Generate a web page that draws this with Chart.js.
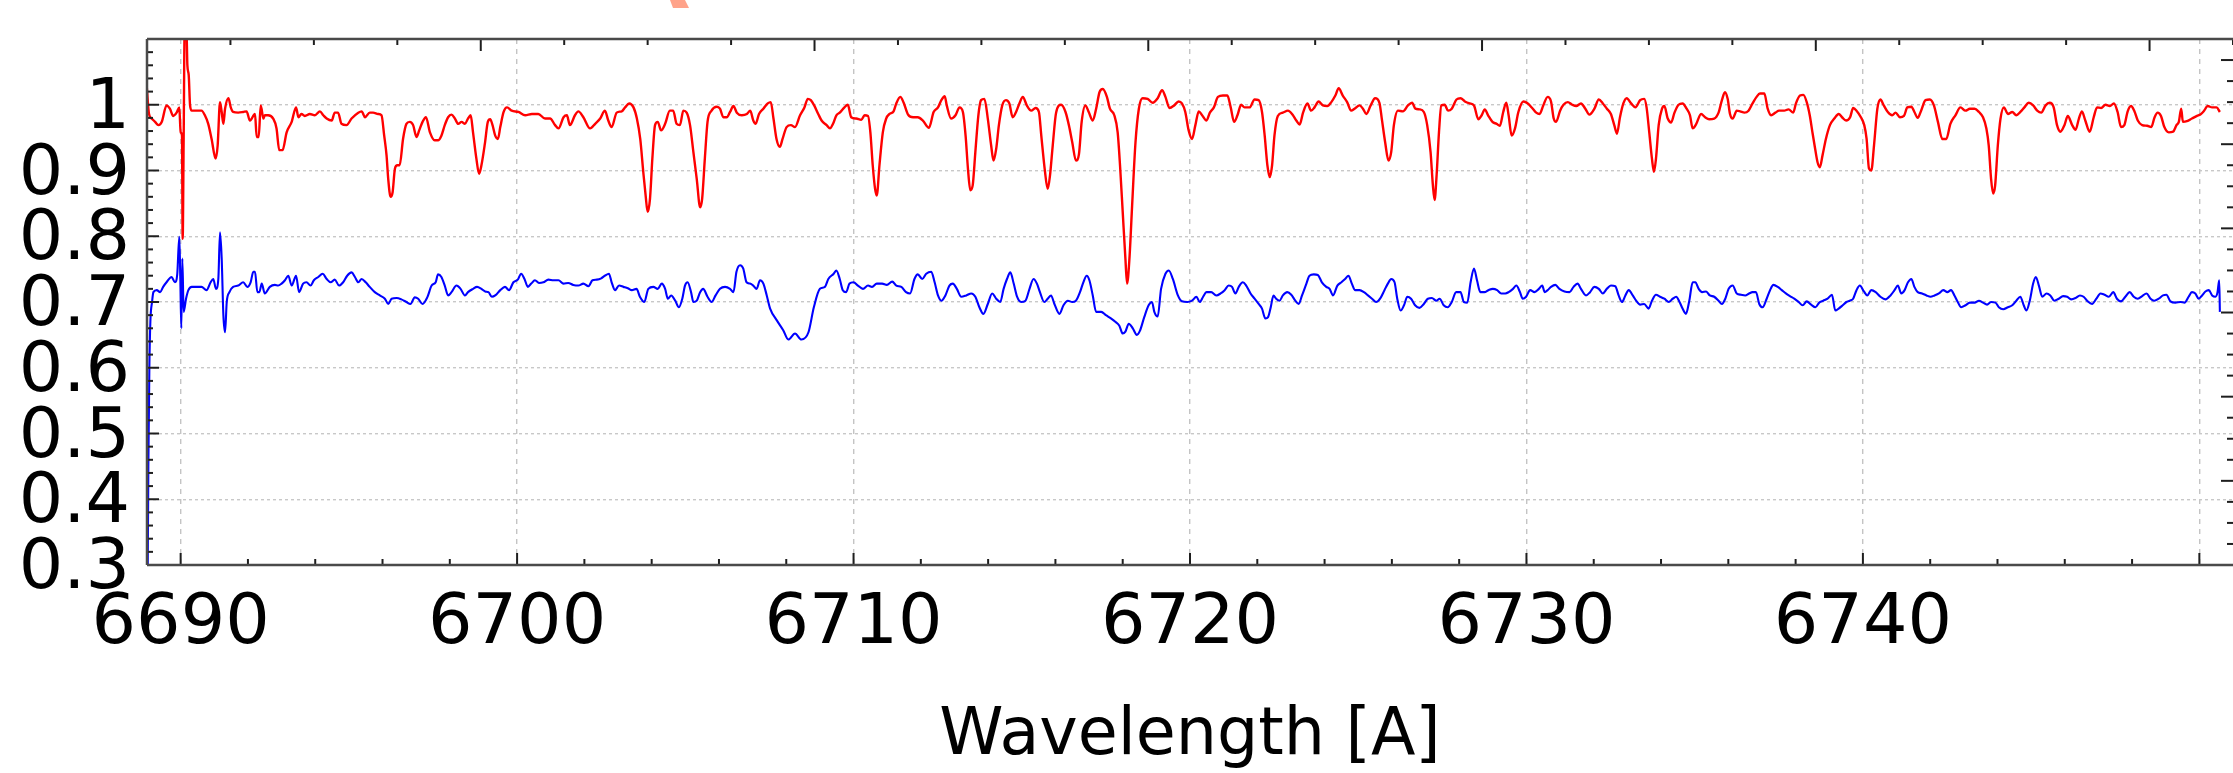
<!DOCTYPE html>
<html>
<head>
<meta charset="utf-8">
<title>Spectrum</title>
<script src="https://cdn.jsdelivr.net/npm/chart.js@4.4.1/dist/chart.umd.min.js"></script>
<style>
  html, body { margin: 0; padding: 0; background: #fff; overflow: hidden; }
  #wrap { position: relative; width: 2233px; height: 773px; }
  canvas { display: block; }
  /* cut-off salmon stroke at the top edge of the figure */
  .stray { position: absolute; left: 670px; top: 0; width: 19px; height: 8px; background: #ffa38a;
           clip-path: polygon(0 0, 15px 0, 19px 8px, 3px 8px); }
</style>
</head>
<body>
<div id="wrap">
  <canvas id="spec" width="2233" height="773"></canvas>
  <div class="stray"></div>
</div>
<script>
// wavelength [A], normalised flux
const redSpectrum = [
  [6688.99,1.029],[6689.06,0.986],[6689.14,0.979],[6689.24,0.974],[6689.34,0.969],[6689.44,0.974],[6689.58,0.999],[6689.68,0.994],[6689.78,0.983],[6689.88,0.988],
  [6689.96,0.996],[6690.00,0.958],[6690.04,0.953],[6690.06,0.796],[6690.09,0.950],[6690.12,1.120],[6690.17,1.120],[6690.20,1.060],[6690.24,1.045],[6690.28,0.999],
  [6690.33,0.991],[6690.48,0.991],[6690.62,0.991],[6690.72,0.984],[6690.82,0.971],[6690.92,0.948],[6691.04,0.918],[6691.10,0.938],[6691.17,1.004],[6691.22,0.989],
  [6691.27,0.971],[6691.32,0.994],[6691.42,1.010],[6691.49,0.996],[6691.56,0.989],[6691.71,0.988],[6691.86,0.989],[6691.96,0.990],[6692.06,0.976],[6692.21,0.986],
  [6692.26,0.951],[6692.32,0.951],[6692.38,0.999],[6692.46,0.979],[6692.50,0.984],[6692.60,0.984],[6692.75,0.979],[6692.85,0.964],[6692.93,0.931],[6693.03,0.931],
  [6693.15,0.958],[6693.30,0.974],[6693.43,0.996],[6693.50,0.981],[6693.59,0.986],[6693.69,0.983],[6693.84,0.986],[6693.99,0.984],[6694.14,0.990],[6694.24,0.984],
  [6694.34,0.979],[6694.49,0.976],[6694.58,0.988],[6694.68,0.988],[6694.78,0.971],[6694.93,0.969],[6695.08,0.979],[6695.28,0.988],[6695.38,0.990],[6695.48,0.981],
  [6695.62,0.988],[6695.72,0.988],[6695.87,0.986],[6695.97,0.984],[6696.05,0.953],[6696.12,0.923],[6696.17,0.887],[6696.24,0.860],[6696.30,0.867],[6696.37,0.903],
  [6696.44,0.908],[6696.51,0.908],[6696.61,0.948],[6696.71,0.971],[6696.81,0.974],[6696.91,0.969],[6697.01,0.951],[6697.09,0.961],[6697.19,0.974],[6697.29,0.981],
  [6697.41,0.958],[6697.55,0.946],[6697.65,0.946],[6697.75,0.953],[6697.85,0.969],[6697.95,0.981],[6698.05,0.985],[6698.15,0.979],[6698.25,0.971],[6698.35,0.974],
  [6698.45,0.971],[6698.54,0.979],[6698.62,0.984],[6698.69,0.958],[6698.79,0.918],[6698.87,0.895],[6698.94,0.908],[6699.04,0.940],[6699.13,0.974],[6699.20,0.978],
  [6699.27,0.969],[6699.35,0.953],[6699.43,0.948],[6699.50,0.966],[6699.60,0.989],[6699.70,0.996],[6699.84,0.991],[6700.04,0.989],[6700.24,0.984],[6700.44,0.986],
  [6700.63,0.986],[6700.83,0.979],[6700.98,0.979],[6701.13,0.969],[6701.23,0.964],[6701.38,0.981],[6701.48,0.984],[6701.57,0.969],[6701.72,0.984],[6701.82,0.990],
  [6701.97,0.981],[6702.17,0.964],[6702.32,0.971],[6702.47,0.979],[6702.61,0.991],[6702.71,0.976],[6702.81,0.966],[6702.96,0.988],[6703.11,0.990],[6703.21,0.996],
  [6703.33,1.002],[6703.46,0.996],[6703.56,0.979],[6703.66,0.948],[6703.75,0.898],[6703.82,0.862],[6703.88,0.837],[6703.95,0.857],[6704.02,0.918],[6704.10,0.969],
  [6704.18,0.974],[6704.28,0.961],[6704.40,0.971],[6704.54,0.991],[6704.64,0.991],[6704.74,0.971],[6704.84,0.969],[6704.94,0.991],[6705.04,0.988],[6705.14,0.969],
  [6705.24,0.928],[6705.34,0.887],[6705.44,0.844],[6705.50,0.857],[6705.58,0.918],[6705.66,0.974],[6705.78,0.991],[6705.93,0.997],[6706.03,0.994],[6706.13,0.981],
  [6706.23,0.981],[6706.33,0.989],[6706.43,0.998],[6706.53,0.988],[6706.68,0.984],[6706.83,0.986],[6706.93,0.991],[6707.02,0.976],[6707.09,0.971],[6707.19,0.986],
  [6707.32,0.994],[6707.45,1.002],[6707.54,1.004],[6707.62,0.979],[6707.71,0.948],[6707.81,0.936],[6707.89,0.948],[6708.01,0.966],[6708.14,0.969],[6708.26,0.966],
  [6708.41,0.984],[6708.54,0.996],[6708.64,1.009],[6708.73,1.007],[6708.83,0.999],[6708.95,0.986],[6709.05,0.976],[6709.20,0.969],[6709.30,0.964],[6709.39,0.971],
  [6709.49,0.984],[6709.59,0.988],[6709.73,0.996],[6709.83,1.000],[6709.93,0.981],[6710.08,0.979],[6710.23,0.977],[6710.33,0.984],[6710.43,0.983],[6710.50,0.958],
  [6710.57,0.908],[6710.64,0.872],[6710.69,0.862],[6710.77,0.908],[6710.87,0.958],[6710.97,0.979],[6711.07,0.986],[6711.19,0.990],[6711.27,1.002],[6711.39,1.012],
  [6711.49,1.003],[6711.62,0.985],[6711.77,0.981],[6711.91,0.981],[6712.06,0.976],[6712.24,0.965],[6712.38,0.989],[6712.51,0.996],[6712.61,1.007],[6712.71,1.013],
  [6712.77,0.999],[6712.90,0.979],[6713.03,0.984],[6713.15,0.996],[6713.25,0.989],[6713.33,0.953],[6713.40,0.903],[6713.47,0.870],[6713.54,0.877],[6713.62,0.928],
  [6713.71,0.984],[6713.79,1.007],[6713.89,1.009],[6713.99,0.979],[6714.09,0.938],[6714.16,0.915],[6714.24,0.933],[6714.32,0.969],[6714.42,0.999],[6714.53,1.007],
  [6714.63,1.002],[6714.73,0.981],[6714.83,0.989],[6714.93,1.002],[6715.03,1.012],[6715.15,0.999],[6715.28,0.991],[6715.41,0.995],[6715.51,0.989],[6715.58,0.953],
  [6715.68,0.903],[6715.77,0.872],[6715.84,0.893],[6715.92,0.938],[6716.02,0.988],[6716.17,1.000],[6716.30,0.989],[6716.40,0.969],[6716.50,0.943],[6716.61,0.915],
  [6716.70,0.925],[6716.78,0.974],[6716.89,0.999],[6716.99,0.989],[6717.11,0.976],[6717.21,0.994],[6717.31,1.019],[6717.41,1.024],[6717.53,1.012],[6717.62,0.994],
  [6717.75,0.984],[6717.85,0.958],[6717.92,0.908],[6718.00,0.837],[6718.08,0.766],[6718.13,0.728],[6718.20,0.766],[6718.28,0.847],[6718.38,0.943],[6718.48,0.994],
  [6718.59,1.010],[6718.74,1.009],[6718.89,1.003],[6719.04,1.010],[6719.17,1.022],[6719.27,1.012],[6719.39,0.995],[6719.53,0.999],[6719.66,1.005],[6719.76,1.002],
  [6719.86,0.989],[6719.96,0.961],[6720.06,0.948],[6720.16,0.969],[6720.26,0.990],[6720.36,0.984],[6720.49,0.976],[6720.59,0.988],[6720.71,0.996],[6720.83,1.012],
  [6720.98,1.014],[6721.11,1.014],[6721.21,0.996],[6721.31,0.974],[6721.41,0.984],[6721.52,1.000],[6721.62,0.996],[6721.77,0.996],[6721.92,1.008],[6722.04,1.007],
  [6722.14,0.989],[6722.22,0.953],[6722.30,0.908],[6722.37,0.890],[6722.44,0.908],[6722.51,0.953],[6722.61,0.983],[6722.76,0.988],[6722.91,0.991],[6723.06,0.984],
  [6723.16,0.976],[6723.26,0.970],[6723.36,0.988],[6723.49,1.002],[6723.60,0.991],[6723.70,0.996],[6723.82,1.005],[6723.95,0.999],[6724.08,0.998],[6724.20,1.004],
  [6724.32,1.014],[6724.42,1.025],[6724.54,1.014],[6724.67,1.004],[6724.79,0.991],[6724.89,0.994],[6725.04,0.999],[6725.14,0.994],[6725.24,0.986],[6725.37,0.999],
  [6725.50,1.010],[6725.63,1.003],[6725.70,0.979],[6725.80,0.943],[6725.90,0.915],[6725.98,0.928],[6726.06,0.969],[6726.18,0.991],[6726.33,0.990],[6726.48,0.999],
  [6726.60,1.003],[6726.70,0.994],[6726.82,0.993],[6726.95,0.989],[6727.05,0.969],[6727.15,0.928],[6727.22,0.877],[6727.27,0.855],[6727.33,0.893],[6727.40,0.958],
  [6727.47,0.999],[6727.57,1.000],[6727.67,0.991],[6727.78,0.994],[6727.92,1.008],[6728.04,1.010],[6728.17,1.005],[6728.31,1.002],[6728.44,0.999],[6728.57,0.978],
  [6728.67,0.984],[6728.76,0.993],[6728.86,0.984],[6728.99,0.974],[6729.11,0.971],[6729.21,0.968],[6729.31,0.989],[6729.40,1.003],[6729.47,0.984],[6729.56,0.953],
  [6729.66,0.964],[6729.76,0.989],[6729.91,1.005],[6730.04,1.002],[6730.17,0.995],[6730.29,0.988],[6730.39,0.986],[6730.50,0.999],[6730.63,1.012],[6730.73,1.005],
  [6730.81,0.979],[6730.88,0.974],[6731.00,0.991],[6731.10,1.000],[6731.23,1.004],[6731.36,1.000],[6731.48,0.998],[6731.62,1.002],[6731.75,0.994],[6731.87,0.985],
  [6732.02,0.994],[6732.15,1.008],[6732.27,1.002],[6732.39,0.994],[6732.51,0.986],[6732.61,0.969],[6732.69,0.956],[6732.78,0.981],[6732.88,1.002],[6732.98,1.010],
  [6733.11,1.002],[6733.24,0.996],[6733.38,1.007],[6733.50,1.009],[6733.57,0.996],[6733.65,0.958],[6733.73,0.918],[6733.79,0.898],[6733.85,0.918],[6733.93,0.969],
  [6734.03,0.994],[6734.10,0.998],[6734.20,0.979],[6734.30,0.973],[6734.40,0.988],[6734.52,1.000],[6734.64,1.002],[6734.76,0.994],[6734.86,0.984],[6734.94,0.964],
  [6735.04,0.970],[6735.19,0.986],[6735.31,0.981],[6735.43,0.978],[6735.58,0.979],[6735.71,0.988],[6735.81,1.007],[6735.90,1.019],[6735.98,1.009],[6736.05,0.986],
  [6736.13,0.979],[6736.25,0.991],[6736.35,0.990],[6736.48,0.988],[6736.60,0.991],[6736.72,1.002],[6736.84,1.012],[6736.94,1.017],[6737.07,1.017],[6737.17,0.994],
  [6737.27,0.984],[6737.40,0.988],[6737.51,0.991],[6737.66,0.991],[6737.79,0.993],[6737.93,0.988],[6738.01,1.002],[6738.13,1.014],[6738.23,1.015],[6738.33,1.004],
  [6738.42,0.984],[6738.50,0.958],[6738.58,0.933],[6738.65,0.913],[6738.72,0.905],[6738.80,0.923],[6738.90,0.948],[6739.02,0.969],[6739.15,0.979],[6739.28,0.986],
  [6739.38,0.981],[6739.50,0.976],[6739.62,0.981],[6739.71,0.995],[6739.81,0.991],[6739.94,0.981],[6740.04,0.969],[6740.11,0.948],[6740.18,0.903],[6740.25,0.900],
  [6740.33,0.938],[6740.43,0.994],[6740.52,1.008],[6740.62,0.999],[6740.74,0.989],[6740.87,0.984],[6740.97,0.988],[6741.10,0.981],[6741.22,0.983],[6741.32,0.996],
  [6741.44,0.997],[6741.53,0.989],[6741.63,0.980],[6741.73,0.991],[6741.86,1.007],[6741.99,1.008],[6742.11,0.999],[6742.23,0.974],[6742.36,0.948],[6742.48,0.948],
  [6742.60,0.971],[6742.75,0.984],[6742.90,0.996],[6743.05,0.991],[6743.18,0.994],[6743.32,0.994],[6743.45,0.989],[6743.57,0.981],[6743.67,0.964],[6743.74,0.938],
  [6743.81,0.887],[6743.87,0.865],[6743.93,0.877],[6744.01,0.938],[6744.09,0.979],[6744.19,0.996],[6744.31,0.986],[6744.44,0.989],[6744.56,0.984],[6744.68,0.989],
  [6744.80,0.996],[6744.93,1.003],[6745.06,0.999],[6745.18,0.991],[6745.30,0.988],[6745.43,0.999],[6745.55,1.003],[6745.67,0.996],[6745.77,0.969],[6745.87,0.959],
  [6745.99,0.969],[6746.09,0.983],[6746.22,0.969],[6746.32,0.962],[6746.42,0.979],[6746.51,0.990],[6746.61,0.976],[6746.74,0.959],[6746.86,0.981],[6746.96,0.996],
  [6747.08,0.995],[6747.21,1.000],[6747.34,0.998],[6747.46,1.002],[6747.57,0.989],[6747.67,0.966],[6747.77,0.969],[6747.87,0.990],[6747.97,0.998],[6748.07,0.990],
  [6748.17,0.976],[6748.30,0.969],[6748.45,0.968],[6748.57,0.966],[6748.67,0.981],[6748.76,0.988],[6748.86,0.983],[6748.96,0.966],[6749.09,0.958],[6749.22,0.959],
  [6749.32,0.969],[6749.39,0.974],[6749.46,0.994],[6749.51,0.974],[6749.63,0.975],[6749.78,0.979],[6749.93,0.983],[6750.03,0.985],[6750.13,0.990],[6750.25,0.998],
  [6750.38,0.996],[6750.51,0.996],[6750.61,0.989]
];

const blueSpectrum = [
  [6689.02,0.280],[6689.04,0.450],[6689.07,0.600],[6689.10,0.670],[6689.15,0.700],[6689.19,0.715],[6689.29,0.718],[6689.39,0.715],[6689.48,0.723],[6689.58,0.730],
  [6689.73,0.738],[6689.83,0.730],[6689.90,0.743],[6689.96,0.799],[6689.99,0.735],[6690.02,0.660],[6690.05,0.766],[6690.09,0.685],[6690.16,0.705],[6690.23,0.718],
  [6690.33,0.723],[6690.48,0.723],[6690.62,0.723],[6690.77,0.718],[6690.89,0.730],[6690.97,0.735],[6691.05,0.720],[6691.12,0.735],[6691.17,0.806],[6691.22,0.766],
  [6691.27,0.680],[6691.32,0.654],[6691.37,0.700],[6691.45,0.715],[6691.56,0.723],[6691.71,0.725],[6691.86,0.730],[6691.98,0.723],[6692.08,0.730],[6692.16,0.746],
  [6692.21,0.746],[6692.28,0.715],[6692.34,0.715],[6692.41,0.728],[6692.50,0.713],[6692.65,0.723],[6692.80,0.726],[6692.90,0.725],[6693.00,0.728],[6693.10,0.733],
  [6693.20,0.740],[6693.30,0.725],[6693.43,0.740],[6693.52,0.715],[6693.64,0.728],[6693.74,0.730],[6693.86,0.725],[6693.96,0.733],[6694.09,0.738],[6694.22,0.743],
  [6694.34,0.735],[6694.46,0.730],[6694.58,0.734],[6694.71,0.725],[6694.83,0.730],[6694.95,0.740],[6695.08,0.745],[6695.18,0.738],[6695.28,0.730],[6695.38,0.735],
  [6695.50,0.730],[6695.62,0.723],[6695.77,0.715],[6695.92,0.710],[6696.07,0.705],[6696.17,0.697],[6696.27,0.705],[6696.42,0.706],[6696.56,0.704],[6696.71,0.700],
  [6696.83,0.697],[6696.96,0.707],[6697.06,0.705],[6697.19,0.697],[6697.33,0.707],[6697.46,0.725],[6697.58,0.730],[6697.65,0.742],[6697.75,0.738],[6697.85,0.725],
  [6697.95,0.710],[6698.05,0.715],[6698.20,0.725],[6698.32,0.720],[6698.45,0.710],[6698.54,0.715],[6698.69,0.720],[6698.81,0.723],[6698.94,0.720],[6699.05,0.716],
  [6699.15,0.715],[6699.25,0.708],[6699.35,0.710],[6699.50,0.718],[6699.64,0.723],[6699.76,0.718],[6699.89,0.730],[6700.02,0.734],[6700.12,0.743],[6700.22,0.735],
  [6700.32,0.723],[6700.42,0.728],[6700.53,0.733],[6700.65,0.729],[6700.78,0.730],[6700.93,0.734],[6701.08,0.733],[6701.23,0.733],[6701.38,0.728],[6701.52,0.729],
  [6701.67,0.726],[6701.82,0.725],[6701.97,0.728],[6702.12,0.724],[6702.24,0.733],[6702.37,0.734],[6702.50,0.736],[6702.61,0.740],[6702.73,0.743],[6702.81,0.730],
  [6702.91,0.718],[6703.03,0.725],[6703.16,0.723],[6703.29,0.721],[6703.41,0.718],[6703.55,0.720],[6703.65,0.708],[6703.78,0.700],[6703.90,0.720],[6704.05,0.723],
  [6704.18,0.720],[6704.30,0.728],[6704.40,0.720],[6704.48,0.705],[6704.58,0.710],[6704.70,0.702],[6704.81,0.692],[6704.91,0.705],[6704.99,0.725],[6705.07,0.730],
  [6705.17,0.715],[6705.24,0.700],[6705.34,0.702],[6705.44,0.715],[6705.53,0.720],[6705.66,0.708],[6705.78,0.700],[6705.90,0.710],[6706.03,0.720],[6706.18,0.723],
  [6706.33,0.720],[6706.43,0.715],[6706.52,0.746],[6706.63,0.756],[6706.72,0.751],[6706.82,0.730],[6706.92,0.728],[6707.02,0.725],[6707.12,0.720],[6707.22,0.733],
  [6707.32,0.728],[6707.42,0.710],[6707.52,0.690],[6707.72,0.672],[6707.91,0.657],[6708.06,0.643],[6708.26,0.652],[6708.45,0.643],[6708.66,0.654],[6708.82,0.692],
  [6709.00,0.720],[6709.15,0.723],[6709.25,0.735],[6709.41,0.743],[6709.49,0.748],[6709.59,0.735],[6709.68,0.718],[6709.78,0.715],[6709.88,0.728],[6710.00,0.730],
  [6710.13,0.725],[6710.28,0.720],[6710.43,0.725],[6710.55,0.723],[6710.69,0.728],[6710.85,0.728],[6710.99,0.726],[6711.15,0.731],[6711.27,0.725],[6711.42,0.723],
  [6711.56,0.715],[6711.68,0.713],[6711.81,0.735],[6711.91,0.742],[6712.04,0.735],[6712.16,0.743],[6712.31,0.746],[6712.41,0.730],[6712.51,0.710],[6712.61,0.702],
  [6712.73,0.710],[6712.85,0.725],[6712.95,0.728],[6713.07,0.720],[6713.20,0.708],[6713.35,0.710],[6713.50,0.713],[6713.62,0.708],[6713.74,0.692],[6713.86,0.682],
  [6713.99,0.697],[6714.12,0.713],[6714.24,0.705],[6714.36,0.700],[6714.46,0.720],[6714.56,0.735],[6714.66,0.745],[6714.76,0.728],[6714.86,0.708],[6714.98,0.700],
  [6715.11,0.702],[6715.23,0.720],[6715.35,0.735],[6715.45,0.728],[6715.54,0.715],[6715.67,0.700],[6715.77,0.705],[6715.87,0.710],[6715.97,0.697],[6716.12,0.682],
  [6716.24,0.695],[6716.37,0.702],[6716.50,0.700],[6716.61,0.702],[6716.73,0.715],[6716.83,0.730],[6716.93,0.740],[6717.01,0.733],[6717.11,0.710],[6717.21,0.685],
  [6717.36,0.685],[6717.50,0.680],[6717.65,0.675],[6717.78,0.670],[6717.90,0.664],[6718.00,0.652],[6718.08,0.655],[6718.18,0.667],[6718.30,0.660],[6718.42,0.650],
  [6718.51,0.656],[6718.64,0.677],[6718.77,0.695],[6718.87,0.700],[6718.94,0.685],[6719.04,0.678],[6719.14,0.720],[6719.27,0.743],[6719.37,0.748],[6719.49,0.735],
  [6719.64,0.710],[6719.76,0.701],[6719.92,0.700],[6720.06,0.702],[6720.19,0.708],[6720.29,0.700],[6720.39,0.708],[6720.49,0.715],[6720.63,0.715],[6720.78,0.710],
  [6720.91,0.713],[6721.03,0.718],[6721.15,0.725],[6721.25,0.723],[6721.35,0.713],[6721.45,0.723],[6721.57,0.730],[6721.67,0.725],[6721.80,0.713],[6721.92,0.705],
  [6722.04,0.697],[6722.14,0.690],[6722.24,0.675],[6722.32,0.677],[6722.40,0.692],[6722.48,0.710],[6722.56,0.705],[6722.66,0.702],[6722.76,0.710],[6722.89,0.715],
  [6723.01,0.711],[6723.13,0.702],[6723.23,0.697],[6723.33,0.710],[6723.46,0.728],[6723.55,0.740],[6723.68,0.742],[6723.80,0.741],[6723.92,0.730],[6724.05,0.723],
  [6724.15,0.720],[6724.25,0.710],[6724.38,0.725],[6724.50,0.730],[6724.61,0.735],[6724.71,0.740],[6724.81,0.728],[6724.91,0.718],[6725.04,0.718],[6725.17,0.715],
  [6725.29,0.710],[6725.41,0.705],[6725.53,0.700],[6725.66,0.706],[6725.78,0.718],[6725.88,0.728],[6725.98,0.735],[6726.08,0.730],[6726.16,0.705],[6726.26,0.687],
  [6726.36,0.695],[6726.46,0.708],[6726.57,0.705],[6726.69,0.695],[6726.82,0.691],[6726.95,0.697],[6727.07,0.705],[6727.19,0.706],[6727.32,0.702],[6727.42,0.705],
  [6727.54,0.695],[6727.66,0.692],[6727.78,0.700],[6727.91,0.715],[6728.04,0.715],[6728.14,0.700],[6728.24,0.699],[6728.34,0.730],[6728.44,0.751],[6728.53,0.733],
  [6728.63,0.715],[6728.75,0.715],[6728.87,0.718],[6729.00,0.720],[6729.13,0.718],[6729.25,0.713],[6729.37,0.713],[6729.47,0.715],[6729.60,0.720],[6729.70,0.725],
  [6729.80,0.716],[6729.89,0.705],[6729.99,0.708],[6730.11,0.718],[6730.24,0.715],[6730.37,0.720],[6730.47,0.725],[6730.54,0.715],[6730.63,0.718],[6730.73,0.723],
  [6730.86,0.726],[6730.98,0.720],[6731.13,0.716],[6731.28,0.715],[6731.40,0.723],[6731.52,0.728],[6731.62,0.720],[6731.77,0.710],[6731.89,0.715],[6732.02,0.723],
  [6732.15,0.720],[6732.27,0.713],[6732.39,0.720],[6732.51,0.725],[6732.64,0.724],[6732.74,0.710],[6732.84,0.700],[6732.94,0.710],[6733.04,0.718],[6733.16,0.710],
  [6733.26,0.702],[6733.38,0.696],[6733.50,0.697],[6733.63,0.690],[6733.73,0.702],[6733.85,0.711],[6733.97,0.708],[6734.10,0.705],[6734.23,0.700],[6734.35,0.705],
  [6734.45,0.708],[6734.55,0.700],[6734.64,0.690],[6734.74,0.682],[6734.84,0.702],[6734.94,0.730],[6735.02,0.730],[6735.12,0.720],[6735.22,0.715],[6735.34,0.716],
  [6735.45,0.710],[6735.58,0.708],[6735.71,0.702],[6735.81,0.697],[6735.91,0.705],[6736.01,0.720],[6736.13,0.725],[6736.25,0.713],[6736.38,0.711],[6736.50,0.710],
  [6736.62,0.713],[6736.72,0.715],[6736.82,0.715],[6736.92,0.697],[6737.02,0.692],[6737.14,0.705],[6737.24,0.718],[6737.34,0.726],[6737.47,0.723],[6737.59,0.718],
  [6737.71,0.713],[6737.83,0.709],[6737.96,0.705],[6738.09,0.700],[6738.21,0.695],[6738.33,0.701],[6738.46,0.696],[6738.59,0.692],[6738.70,0.699],[6738.82,0.702],
  [6738.95,0.705],[6739.08,0.711],[6739.18,0.687],[6739.28,0.690],[6739.40,0.695],[6739.51,0.700],[6739.61,0.702],[6739.71,0.705],[6739.81,0.718],[6739.91,0.725],
  [6740.03,0.716],[6740.13,0.710],[6740.25,0.718],[6740.38,0.715],[6740.52,0.708],[6740.67,0.704],[6740.82,0.710],[6740.94,0.718],[6741.04,0.725],[6741.14,0.713],
  [6741.24,0.718],[6741.34,0.730],[6741.44,0.735],[6741.53,0.723],[6741.63,0.715],[6741.76,0.713],[6741.89,0.710],[6742.01,0.708],[6742.13,0.710],[6742.26,0.713],
  [6742.39,0.718],[6742.51,0.715],[6742.62,0.718],[6742.72,0.710],[6742.82,0.700],[6742.92,0.692],[6743.05,0.695],[6743.18,0.699],[6743.32,0.699],[6743.45,0.702],
  [6743.57,0.699],[6743.69,0.696],[6743.81,0.700],[6743.94,0.699],[6744.04,0.692],[6744.17,0.689],[6744.31,0.692],[6744.44,0.695],[6744.56,0.702],[6744.68,0.708],
  [6744.78,0.695],[6744.86,0.687],[6744.96,0.702],[6745.06,0.728],[6745.14,0.738],[6745.23,0.725],[6745.33,0.708],[6745.46,0.713],[6745.57,0.710],[6745.69,0.702],
  [6745.82,0.705],[6745.95,0.709],[6746.07,0.708],[6746.19,0.704],[6746.32,0.706],[6746.45,0.710],[6746.56,0.708],[6746.68,0.701],[6746.81,0.697],[6746.94,0.705],
  [6747.06,0.713],[6747.18,0.711],[6747.31,0.708],[6747.44,0.715],[6747.55,0.705],[6747.67,0.701],[6747.80,0.708],[6747.93,0.715],[6748.05,0.708],[6748.17,0.705],
  [6748.30,0.709],[6748.43,0.713],[6748.55,0.705],[6748.66,0.702],[6748.79,0.705],[6748.92,0.710],[6749.02,0.711],[6749.14,0.701],[6749.29,0.699],[6749.44,0.700],
  [6749.56,0.699],[6749.68,0.708],[6749.78,0.715],[6749.88,0.713],[6749.98,0.705],[6750.08,0.710],[6750.18,0.716],[6750.28,0.718],[6750.38,0.710],[6750.48,0.708],
  [6750.54,0.715],[6750.59,0.733],[6750.61,0.685]
];

const xTicks = [6690, 6700, 6710, 6720, 6730, 6740, 6750];
const xTickLabels = ["6690", "6700", "6710", "6720", "6730", "6740", ""];
const yTicks = [0.3, 0.4, 0.5, 0.6, 0.7, 0.8, 0.9, 1.0];
const yTickLabels = ["0.3", "0.4", "0.5", "0.6", "0.7", "0.8", "0.9", "1"];
const xTitle = "Wavelength [A]";

const X_MIN = 6689, X_MAX = 6751, Y_MIN = 0.3, Y_MAX = 1.1;
const TWIN_MAX = 6.25; // unlabelled twin axes on top and right

const toXY = (pairs) => pairs.map(([x, y]) => ({ x, y }));

// inward matplotlib-style ticks plus the frame
const frameTicks = {
  id: "frameTicks",
  afterDatasetsDraw(chart) {
    const { ctx, chartArea: a, scales } = chart;
    ctx.save();
    ctx.strokeStyle = "#1e1e1e";
    ctx.lineWidth = 2;
    const line = (x0, y0, x1, y1) => {
      ctx.beginPath();
      ctx.moveTo(x0, y0);
      ctx.lineTo(x1, y1);
      ctx.stroke();
    };
    // bottom: major every 10, minor every 2
    for (let i = 0; 6690 + i * 2 <= X_MAX; i++) {
      const px = scales.x.getPixelForValue(6690 + i * 2);
      line(px, a.bottom, px, a.bottom - (i % 5 === 0 ? 12 : 6));
    }
    // left: major every 0.1, minor every 0.02
    for (let i = 0; i <= 40; i++) {
      const py = scales.y.getPixelForValue(Y_MIN + i * 0.02);
      line(a.left, py, a.left + (i % 5 === 0 ? 12 : 6), py);
    }
    // top and right twins
    for (let i = 0; i * 0.25 <= TWIN_MAX; i++) {
      const len = i % 4 === 0 ? 12 : 6;
      const px = scales.x2.getPixelForValue(i * 0.25);
      line(px, a.top, px, a.top + len);
      const py = scales.y2.getPixelForValue(i * 0.25);
      line(a.right, py, a.right - len, py);
    }
    ctx.strokeStyle = "#4a4a4a";
    ctx.lineWidth = 2.5;
    line(a.left, a.bottom, a.left, a.top);
    line(a.left, a.top, a.right + 2, a.top);
    line(a.left, a.bottom, a.right + 2, a.bottom);
    ctx.restore();
  },
};

const tickFont = { family: "'DejaVu Sans', sans-serif", size: 70 };

new Chart(document.getElementById("spec"), {
  type: "line",
  data: {
    datasets: [
      {
        data: toXY(redSpectrum),
        borderColor: "#ff0000",
        borderWidth: 2.4,
        pointRadius: 0,
        cubicInterpolationMode: "monotone",
        clip: 0,
        xAxisID: "x",
        yAxisID: "y",
      },
      {
        data: toXY(blueSpectrum),
        borderColor: "#0000ff",
        borderWidth: 2.1,
        pointRadius: 0,
        cubicInterpolationMode: "monotone",
        clip: 0,
        xAxisID: "x",
        yAxisID: "y",
      },
    ],
  },
  options: {
    responsive: false,
    devicePixelRatio: 1,
    animation: false,
    events: [],
    layout: { padding: 0 },
    plugins: { legend: { display: false }, tooltip: { enabled: false } },
    scales: {
      x: {
        type: "linear",
        position: "bottom",
        min: X_MIN,
        max: X_MAX,
        afterBuildTicks: (s) => { s.ticks = xTicks.map((v) => ({ value: v })); },
        afterFit: (s) => { s.height = 208; s.paddingLeft = 0; s.paddingRight = 0; },
        ticks: {
          font: tickFont,
          color: "#000",
          padding: 18,
          maxRotation: 0,
          autoSkip: false,
          callback: (v) => xTickLabels[xTicks.indexOf(v)] ?? "",
        },
        grid: { color: "#c4c4c4", lineWidth: 1.4, drawTicks: false },
        border: { display: false, dash: [5, 5] },
        title: {
          display: true,
          text: xTitle,
          color: "#000",
          font: { family: "'DejaVu Sans', sans-serif", size: 65 },
          padding: { top: 0, bottom: -3 },
        },
      },
      y: {
        type: "linear",
        position: "left",
        min: Y_MIN,
        max: Y_MAX,
        afterBuildTicks: (s) => { s.ticks = yTicks.map((v) => ({ value: v })); },
        afterFit: (s) => { s.width = 147; s.paddingTop = 0; s.paddingBottom = 0; },
        ticks: {
          font: tickFont,
          color: "#000",
          padding: 17,
          labelOffset: 5,
          autoSkip: false,
          callback: (v) => yTickLabels[yTicks.findIndex((t) => Math.abs(t - v) < 1e-6)] ?? "",
        },
        grid: { color: "#c8c8c8", lineWidth: 1.4, drawTicks: false },
        border: { display: false, dash: [3, 3] },
      },
      x2: {
        type: "linear",
        position: "top",
        min: 0,
        max: TWIN_MAX,
        afterFit: (s) => { s.height = 39; s.paddingLeft = 0; s.paddingRight = 0; },
        ticks: { display: false },
        grid: { display: false },
        border: { display: false },
      },
      y2: {
        type: "linear",
        position: "right",
        min: 0,
        max: TWIN_MAX,
        afterFit: (s) => { s.width = 0; s.paddingTop = 0; s.paddingBottom = 0; },
        ticks: { display: false },
        grid: { display: false },
        border: { display: false },
      },
    },
  },
  plugins: [frameTicks],
});
</script>
</body>
</html>
